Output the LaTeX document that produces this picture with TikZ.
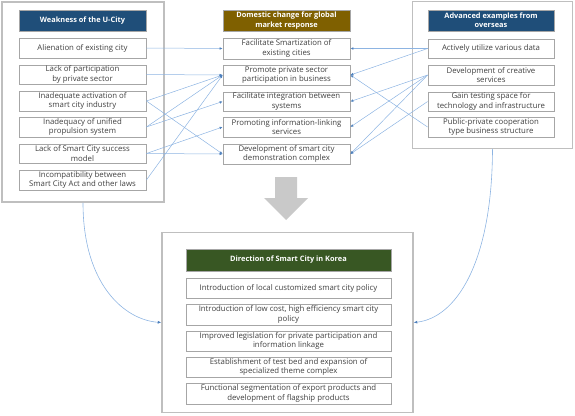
\documentclass[tikz,border=0pt]{standalone}
\usepackage{fontspec}
\setmainfont{Open Sans}
\usetikzlibrary{arrows.meta}
\definecolor{navy}{HTML}{1F4E79}
\definecolor{olivebrown}{HTML}{7F6000}
\definecolor{darkgreen}{HTML}{385723}
\definecolor{itemgrey}{HTML}{A6A6A6}
\definecolor{outergrey}{HTML}{BFBFBF}
\definecolor{linkblue}{HTML}{8DB4E2}
\definecolor{tipblue}{HTML}{4F81BD}
\definecolor{arrowgrey}{HTML}{C9C9C9}
\tikzset{
  outerbox/.style={draw=outergrey, line width=1.5pt},
  itembox/.style={draw=itemgrey, line width=0.8pt, fill=white, align=center, inner sep=0pt,
    font=\fontsize{7.8}{9.4}\selectfont, text=black!75},
  headbox/.style={draw=itemgrey, line width=0.8pt, align=center, inner sep=0pt,
    font=\fontsize{7.4}{9.2}\selectfont\bfseries, text=white},
  link/.style={draw=linkblue, line width=0.5pt, -{Latex[length=3pt,width=2.6pt,color=tipblue]}},
  curvelink/.style={draw=linkblue, line width=0.6pt, -{Latex[length=3.5pt,width=3pt,color=tipblue]}}
}
\begin{document}
\begin{tikzpicture}[x=1pt,y=-1pt]
\useasboundingbox (0,0) rectangle (575,415);
% outer boxes
\node[outerbox, minimum width=162pt, minimum height=200pt, inner sep=0pt] (Lout) at (83,102) {};
\node[outerbox, minimum width=160pt, minimum height=147pt, inner sep=0pt] (Rout) at (492.5,75) {};
\node[outerbox, minimum width=251pt, minimum height=180pt, inner sep=0pt] (Bout) at (287.5,322.5) {};
% left column
\node[headbox, fill=navy, minimum width=127pt, minimum height=21pt] (Lh) at (82.5,20.5) {Weakness of the U-City};
\node[itembox, minimum width=127pt, minimum height=20pt] (L1) at (82.5,48) {Alienation of existing city};
\node[itembox, minimum width=127pt, minimum height=19pt] (L2) at (82.5,74.5) {Lack of participation\\by private sector};
\node[itembox, minimum width=127pt, minimum height=20pt] (L3) at (82.5,101) {Inadequate activation of\\smart city industry};
\node[itembox, minimum width=127pt, minimum height=20pt] (L4) at (82.5,127) {Inadequacy of unified\\propulsion system};
\node[itembox, minimum width=127pt, minimum height=19pt] (L5) at (82.5,153.5) {Lack of Smart City success\\model};
\node[itembox, minimum width=127pt, minimum height=20pt] (L6) at (82.5,180) {Incompatibility between\\Smart City Act and other laws};
% middle column
\node[headbox, fill=olivebrown, minimum width=127pt, minimum height=21pt] (Mh) at (286.5,20.5) {Domestic change for global\\market response};
\node[itembox, minimum width=127pt, minimum height=21pt] (M1) at (286.5,48.5) {Facilitate Smartization of\\existing cities};
\node[itembox, minimum width=127pt, minimum height=20pt] (M2) at (286.5,75) {Promote private sector\\participation in business};
\node[itembox, minimum width=127pt, minimum height=19pt] (M3) at (286.5,101.5) {Facilitate integration between\\systems};
\node[itembox, minimum width=127pt, minimum height=20pt] (M4) at (286.5,127) {Promoting information-linking\\services};
\node[itembox, minimum width=127pt, minimum height=20pt] (M5) at (286.5,154) {Development of smart city\\demonstration complex};
% right column
\node[headbox, fill=navy, minimum width=126pt, minimum height=21pt] (Rh) at (491,20.5) {Advanced examples from\\overseas};
\node[itembox, minimum width=126pt, minimum height=19pt] (R1) at (491,48.5) {Actively utilize various data};
\node[itembox, minimum width=126pt, minimum height=20pt] (R2) at (491,75) {Development of creative\\services};
\node[itembox, minimum width=126pt, minimum height=19pt] (R3) at (491,101.5) {Gain testing space for\\technology and infrastructure};
\node[itembox, minimum width=126pt, minimum height=20pt] (R4) at (491,127) {Public-private cooperation\\type business structure};
% bottom column
\node[headbox, fill=darkgreen, minimum width=205pt, minimum height=22pt] (Bh) at (288.5,260) {Direction of Smart City in Korea};
\node[itembox, minimum width=205pt, minimum height=20pt] (B1) at (288.5,288) {Introduction of local customized smart city policy};
\node[itembox, minimum width=205pt, minimum height=21pt] (B2) at (288.5,314.5) {Introduction of low cost, high efficiency smart city\\policy};
\node[itembox, minimum width=205pt, minimum height=20pt] (B3) at (288.5,341) {Improved legislation for private participation and\\information linkage};
\node[itembox, minimum width=205pt, minimum height=20pt] (B4) at (288.5,367) {Establishment of test bed and expansion of\\specialized theme complex};
\node[itembox, minimum width=205pt, minimum height=21pt] (B5) at (288.5,393.5) {Functional segmentation of export products and\\development of flagship products};
% big arrow
\fill[arrowgrey] (275,177) -- (297,177) -- (297,198) -- (308,198) -- (286,220) -- (264,198) -- (275,198) -- cycle;
% left links
\draw[link] (L1.east) -- (M1.west);
\draw[link] (L2.east) -- (M2.west);
\draw[link] (L3.east) -- (M2.west);
\draw[link] (L3.east) -- (M5.west);
\draw[link] (L4.east) -- (M2.west);
\draw[link] (L4.east) -- (M3.west);
\draw[link] (L5.east) -- (M4.west);
\draw[link] (L5.east) -- (M5.west);
\draw[link] (L6.east) -- (M2.west);
% right links
\draw[link] (R1.west) -- (M1.east);
\draw[link] (R1.west) -- (M2.east);
\draw[link] (R2.west) -- (M3.east);
\draw[link] (R2.west) -- (M4.east);
\draw[link] (R2.west) -- (M5.east);
\draw[link] (R3.west) -- (M5.east);
\draw[link] (R4.west) -- (M2.east);
% curves to bottom
\draw[curvelink] (Lout.south) .. controls (83,285) and (125,320) .. (Bout.west);
\draw[curvelink] (Rout.south) .. controls (492,265) and (455,318) .. (Bout.east);
\end{tikzpicture}
\end{document}
